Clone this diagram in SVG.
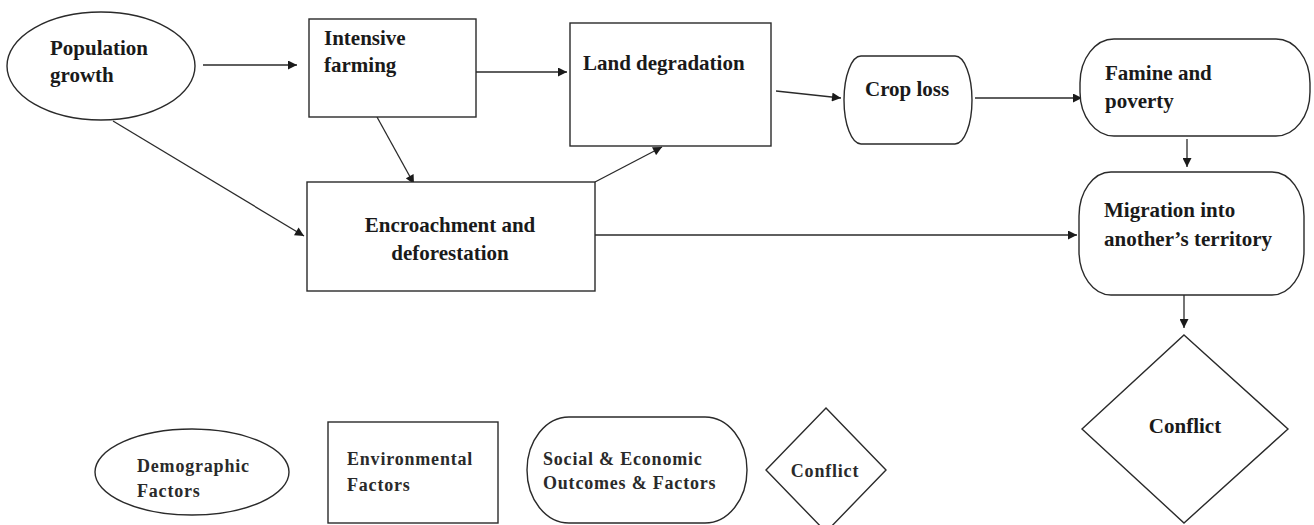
<svg xmlns="http://www.w3.org/2000/svg" width="1314" height="525" viewBox="0 0 1314 525">
  <defs>
    <marker id="arrow" viewBox="0 0 10 10" refX="10" refY="5" markerWidth="10" markerHeight="9" markerUnits="userSpaceOnUse" orient="auto">
      <path d="M0,0 L10,5 L0,10 z" fill="#1a1a1a"/>
    </marker>
    <style>
      .shape { fill: #ffffff; stroke: #2a2a2a; stroke-width: 1.4; }
      .edge { fill: none; stroke: #2a2a2a; stroke-width: 1.3; marker-end: url(#arrow); }
      .lbl { font-family: "Times New Roman", "Liberation Serif", "DejaVu Serif", serif; font-weight: bold; font-size: 21px; fill: #1a1a1a; }
      .key { font-family: "Times New Roman", "Liberation Serif", "DejaVu Serif", serif; font-weight: bold; font-size: 18px; letter-spacing: 0.8px; fill: #2a2a2a; }
    </style>
  </defs>
  <rect width="1314" height="525" fill="#ffffff"/>

  <!-- connectors -->
  <g id="connectors">
    <line class="edge" x1="203" y1="65" x2="297" y2="65"/>
    <line class="edge" x1="113" y1="121" x2="304" y2="236"/>
    <line class="edge" x1="377" y1="117" x2="414" y2="184"/>
    <line class="edge" x1="476" y1="72" x2="567" y2="72"/>
    <line class="edge" x1="595" y1="182" x2="662" y2="147"/>
    <line class="edge" x1="776" y1="91" x2="841" y2="98"/>
    <line class="edge" x1="975" y1="98" x2="1082" y2="98"/>
    <line class="edge" x1="595" y1="235" x2="1077" y2="235"/>
    <line class="edge" x1="1187" y1="139" x2="1187" y2="167"/>
    <line class="edge" x1="1184" y1="295" x2="1184" y2="328"/>
  </g>

  <!-- main flow -->
  <g id="population-growth">
    <ellipse class="shape" cx="101" cy="66" rx="94" ry="54"/>
    <text class="lbl" x="50" y="55">Population</text>
    <text class="lbl" x="50" y="82">growth</text>
  </g>

  <g id="intensive-farming">
    <rect class="shape" x="309" y="19" width="167" height="98"/>
    <text class="lbl" x="324" y="45">Intensive</text>
    <text class="lbl" x="324" y="72">farming</text>
  </g>

  <g id="encroachment">
    <rect class="shape" x="307" y="182" width="288" height="109"/>
    <text class="lbl" x="450" y="232" text-anchor="middle">Encroachment and</text>
    <text class="lbl" x="450" y="260" text-anchor="middle">deforestation</text>
  </g>

  <g id="land-degradation">
    <rect class="shape" x="570" y="23" width="201" height="123"/>
    <text class="lbl" x="583" y="70">Land degradation</text>
  </g>

  <g id="crop-loss">
    <path class="shape" d="M861,56 H955 A17,44 0 0 1 955,144 H861 A17,44 0 0 1 861,56 Z"/>
    <text class="lbl" x="865" y="96">Crop loss</text>
  </g>

  <g id="famine-poverty">
    <rect class="shape" x="1080" y="39" width="230" height="97" rx="34" ry="44"/>
    <text class="lbl" x="1105" y="80">Famine and</text>
    <text class="lbl" x="1105" y="108">poverty</text>
  </g>

  <g id="migration">
    <rect class="shape" x="1079" y="172" width="225" height="123" rx="32" ry="44"/>
    <text class="lbl" x="1104" y="217">Migration into</text>
    <text class="lbl" x="1104" y="246">another’s territory</text>
  </g>

  <g id="conflict">
    <polygon class="shape" points="1184,335 1288,429 1184,523 1082,429"/>
    <text class="lbl" x="1185" y="433" text-anchor="middle">Conflict</text>
  </g>

  <!-- legend -->
  <g id="legend-demographic">
    <ellipse class="shape" cx="192" cy="472" rx="97" ry="43"/>
    <text class="key" x="137" y="472">Demographic</text>
    <text class="key" x="137" y="497">Factors</text>
  </g>

  <g id="legend-environmental">
    <rect class="shape" x="328" y="422" width="170" height="101"/>
    <text class="key" x="347" y="465">Environmental</text>
    <text class="key" x="347" y="491">Factors</text>
  </g>

  <g id="legend-social">
    <rect class="shape" x="527" y="417" width="220" height="106" rx="42" ry="53"/>
    <text class="key" x="543" y="465">Social &amp; Economic</text>
    <text class="key" x="543" y="489">Outcomes &amp; Factors</text>
  </g>

  <g id="legend-conflict">
    <polygon class="shape" points="826,408 886,470 826,532 766,470"/>
    <text class="key" x="825" y="477" text-anchor="middle">Conflict</text>
  </g>
</svg>
